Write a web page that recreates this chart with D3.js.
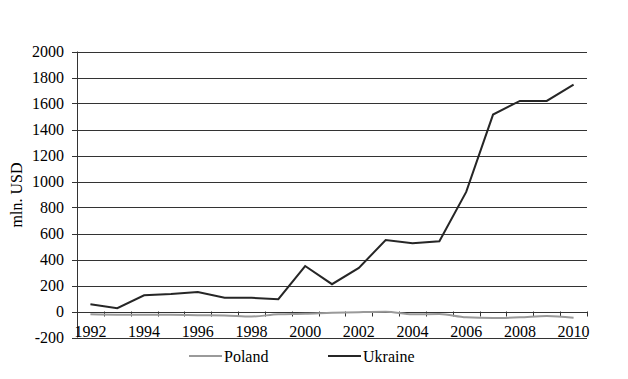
<!DOCTYPE html>
<html><head><meta charset="utf-8">
<script src="https://cdn.jsdelivr.net/npm/d3@7"></script>
<style>body{margin:0;background:#fff}svg{display:block}</style>
</head><body><svg id="c" width="628" height="379" font-family="'Liberation Serif', 'Times New Roman', 'DejaVu Serif', serif"></svg>
<script>
const years = [1992,1993,1994,1995,1996,1997,1998,1999,2000,2001,2002,2003,2004,2005,2006,2007,2008,2009,2010];
const poland = [-22,-25,-25,-25,-28,-30,-38,-22,-18,-10,-5,-2,-22,-20,-45,-50,-45,-35,-48];
const ukraine = [55,25,125,135,150,105,105,95,350,210,335,550,525,540,920,1515,1620,1620,1745];
const yTicks = [-200,0,200,400,600,800,1000,1200,1400,1600,1800,2000];
const seriesNames = ["Poland","Ukraine"];
const colors = ["#9a9a9a","#262626"];

(function(){
const svg = d3.select("#c");
const FONT = "'Liberation Serif', 'Times New Roman', 'DejaVu Serif', serif";
const pLeft = 77, pRight = 587, pTop = 51.5, pBottom = 337.5;
const x = d3.scaleBand().domain(years).range([pLeft,pRight]);
const y = d3.scaleLinear().domain([-200,2000]).range([pBottom,pTop]);

svg.append("g").selectAll("line").data(yTicks).join("line")
  .attr("x1",pLeft-5).attr("x2",pRight).attr("y1",d=>Math.round(y(d))+0.5).attr("y2",d=>Math.round(y(d))+0.5)
  .attr("stroke","#333").attr("stroke-width",1);
svg.append("g").selectAll("text").data(yTicks).join("text")
  .attr("x",64).attr("y",d=>y(d)+5.5).attr("text-anchor","end")
  .attr("font-family",FONT).attr("font-size",16).text(d=>d);
svg.append("line").attr("x1",pLeft+0.5).attr("x2",pLeft+0.5).attr("y1",pTop).attr("y2",pBottom)
  .attr("stroke","#333");
const bounds = years.map(d=>x(d)).concat([pRight]);
svg.append("g").selectAll("line").data(bounds).join("line")
  .attr("x1",d=>Math.round(d)+0.5).attr("x2",d=>Math.round(d)+0.5).attr("y1",y(0)).attr("y2",y(0)+5)
  .attr("stroke","#333");
svg.append("g").selectAll("text").data(years.filter(d=>d%2===0)).join("text")
  .attr("x",d=>x(d)+x.bandwidth()/2).attr("y",337).attr("text-anchor","middle")
  .attr("font-family",FONT).attr("font-size",16).text(d=>d);
svg.append("text").attr("transform","translate(22,195) rotate(-90)")
  .attr("text-anchor","middle").attr("font-family",FONT).attr("font-size",16).text("mln. USD");

const line = d3.line().x((d,i)=>x(years[i])+x.bandwidth()/2).y(d=>y(d));
const lineSmooth = d3.line().x((d,i)=>x(years[i])+x.bandwidth()/2).y(d=>y(d)).curve(d3.curveMonotoneX);
svg.append("path").datum(poland).attr("d",lineSmooth).attr("fill","none")
  .attr("stroke",colors[0]).attr("stroke-width",2);
svg.append("path").datum(ukraine).attr("d",line).attr("fill","none")
  .attr("stroke",colors[1]).attr("stroke-width",2);

const legX = [189,328];
seriesNames.forEach((n,i)=>{
  svg.append("line").attr("x1",legX[i]).attr("x2",legX[i]+33).attr("y1",356).attr("y2",356)
    .attr("stroke",colors[i]).attr("stroke-width",2);
  svg.append("text").attr("x",legX[i]+35).attr("y",361.5).attr("font-family",FONT).attr("font-size",16).text(n);
});
})();
</script></body></html>
